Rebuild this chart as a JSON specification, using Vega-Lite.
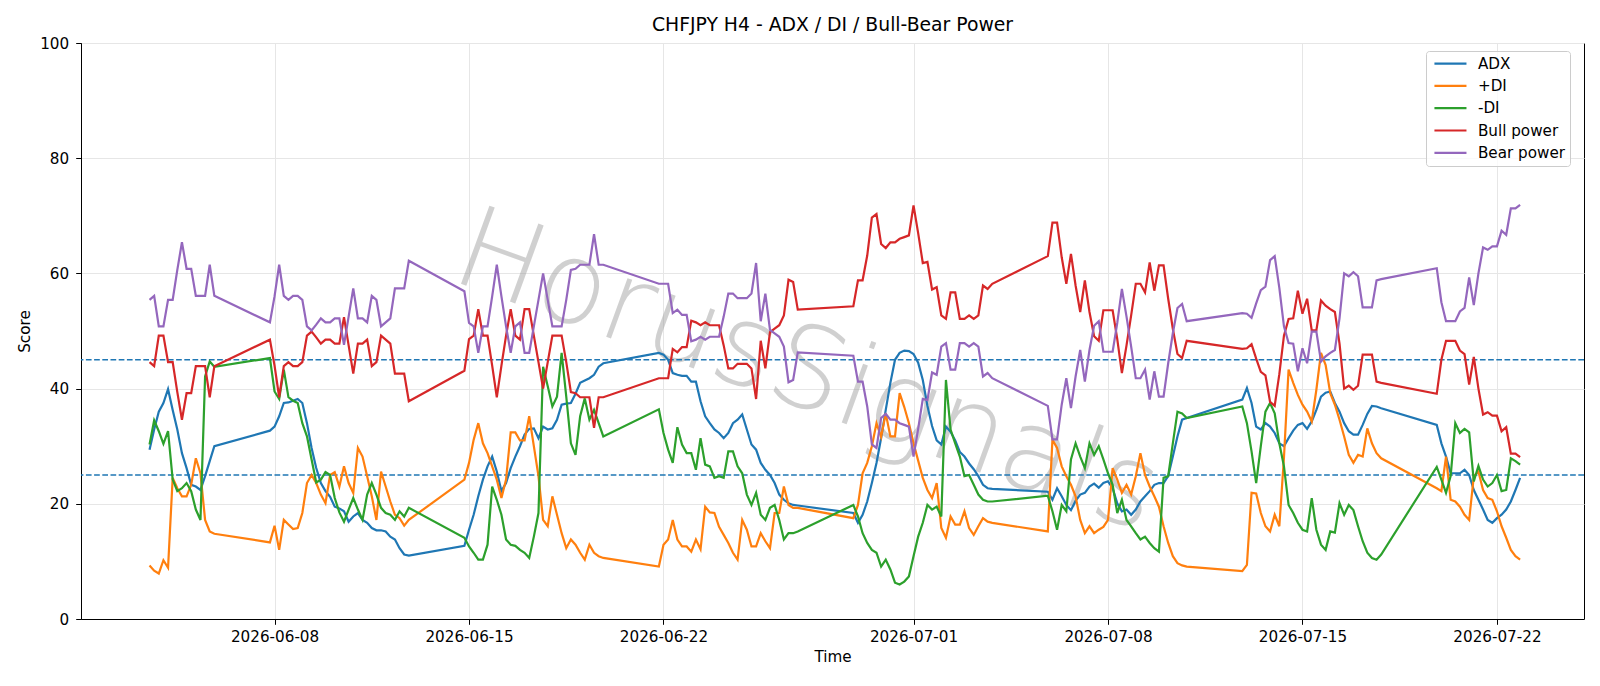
{
"$schema": "https://vega.github.io/schema/vega-lite/v6.json",
"width": 1503, "height": 576,
"autosize": {"type": "none"},
"padding": {"left": 81, "top": 43, "right": 16, "bottom": 67},
"background": "white",
"title": {"text": "CHFJPY H4 - ADX / DI / Bull-Bear Power", "fontSize": 18.8, "font": "DejaVu Sans", "fontWeight": "normal", "color": "black", "offset": -13.5, "anchor": "middle", "baseline": "alphabetic"},
"config": {
  "font": "DejaVu Sans",
  "view": {"stroke": "black", "strokeWidth": 1},
  "axis": {"labelFont": "DejaVu Sans", "labelFontSize": 15.2, "labelColor": "black", "titleFont": "DejaVu Sans", "titleFontSize": 15.2, "titleFontWeight": "normal", "titleColor": "black", "tickColor": "black", "domainColor": "black", "tickSize": 5.3, "labelPadding": 5, "gridColor": "#e6e6e6", "gridWidth": 1, "domainWidth": 1, "tickWidth": 1}
},
"datasets": {
"d": [
{"t":"2026-06-03T12:00:00Z","ADX":29.4,"+DI":9.3,"-DI":30.3,"Bull power":44.6,"Bear power":55.4},
{"t":"2026-06-03T16:00:00Z","ADX":32.9,"+DI":8.4,"-DI":34.5,"Bull power":43.9,"Bear power":56.1},
{"t":"2026-06-03T20:00:00Z","ADX":36.0,"+DI":7.9,"-DI":32.6,"Bull power":49.2,"Bear power":50.8},
{"t":"2026-06-04T00:00:00Z","ADX":37.5,"+DI":10.2,"-DI":30.4,"Bull power":49.2,"Bear power":50.8},
{"t":"2026-06-04T04:00:00Z","ADX":39.9,"+DI":8.9,"-DI":32.6,"Bull power":44.6,"Bear power":55.4},
{"t":"2026-06-04T08:00:00Z","ADX":36.3,"+DI":24.5,"-DI":24.2,"Bull power":44.6,"Bear power":55.4},
{"t":"2026-06-04T12:00:00Z","ADX":32.9,"+DI":22.7,"-DI":22.2,"Bull power":39.4,"Bear power":60.6},
{"t":"2026-06-04T16:00:00Z","ADX":28.8,"+DI":21.3,"-DI":22.7,"Bull power":34.6,"Bear power":65.4},
{"t":"2026-06-04T20:00:00Z","ADX":26.2,"+DI":21.3,"-DI":23.6,"Bull power":39.2,"Bear power":60.8},
{"t":"2026-06-05T00:00:00Z","ADX":23.3,"+DI":23.3,"-DI":22.2,"Bull power":39.2,"Bear power":60.8},
{"t":"2026-06-05T04:00:00Z","ADX":23.0,"+DI":27.9,"-DI":19.0,"Bull power":43.9,"Bear power":56.1},
{"t":"2026-06-05T08:00:00Z","ADX":22.4,"+DI":25.3,"-DI":17.2,"Bull power":43.9,"Bear power":56.1},
{"t":"2026-06-05T12:00:00Z","ADX":24.8,"+DI":17.2,"-DI":42.1,"Bull power":43.9,"Bear power":56.1},
{"t":"2026-06-05T16:00:00Z","ADX":27.4,"+DI":15.2,"-DI":44.7,"Bull power":38.5,"Bear power":61.5},
{"t":"2026-06-05T20:00:00Z","ADX":30.0,"+DI":14.8,"-DI":43.8,"Bull power":43.9,"Bear power":56.1},
{"t":"2026-06-07T20:00:00Z","ADX":32.7,"+DI":13.3,"-DI":45.3,"Bull power":48.5,"Bear power":51.5},
{"t":"2026-06-08T00:00:00Z","ADX":33.4,"+DI":16.2,"-DI":39.5,"Bull power":44.0,"Bear power":56.0},
{"t":"2026-06-08T04:00:00Z","ADX":35.2,"+DI":12.0,"-DI":38.2,"Bull power":38.5,"Bear power":61.5},
{"t":"2026-06-08T08:00:00Z","ADX":37.5,"+DI":17.2,"-DI":43.3,"Bull power":43.9,"Bear power":56.1},
{"t":"2026-06-08T12:00:00Z","ADX":37.6,"+DI":16.4,"-DI":38.5,"Bull power":44.6,"Bear power":55.4},
{"t":"2026-06-08T16:00:00Z","ADX":37.9,"+DI":15.6,"-DI":37.9,"Bull power":43.9,"Bear power":56.1},
{"t":"2026-06-08T20:00:00Z","ADX":38.2,"+DI":15.8,"-DI":37.5,"Bull power":43.9,"Bear power":56.1},
{"t":"2026-06-09T00:00:00Z","ADX":37.5,"+DI":18.4,"-DI":34.0,"Bull power":44.6,"Bear power":55.4},
{"t":"2026-06-09T04:00:00Z","ADX":34.0,"+DI":23.6,"-DI":31.7,"Bull power":49.2,"Bear power":50.8},
{"t":"2026-06-09T08:00:00Z","ADX":29.7,"+DI":25.0,"-DI":27.7,"Bull power":49.9,"Bear power":50.1},
{"t":"2026-06-09T12:00:00Z","ADX":26.2,"+DI":23.6,"-DI":23.7,"Bull power":48.9,"Bear power":51.1},
{"t":"2026-06-09T16:00:00Z","ADX":23.6,"+DI":21.6,"-DI":24.2,"Bull power":47.8,"Bear power":52.2},
{"t":"2026-06-09T20:00:00Z","ADX":22.2,"+DI":20.1,"-DI":25.5,"Bull power":48.5,"Bear power":51.5},
{"t":"2026-06-10T00:00:00Z","ADX":21.2,"+DI":25.0,"-DI":25.0,"Bull power":48.5,"Bear power":51.5},
{"t":"2026-06-10T04:00:00Z","ADX":19.5,"+DI":25.5,"-DI":21.0,"Bull power":47.8,"Bear power":52.2},
{"t":"2026-06-10T08:00:00Z","ADX":19.2,"+DI":23.0,"-DI":18.5,"Bull power":47.8,"Bear power":52.2},
{"t":"2026-06-10T12:00:00Z","ADX":18.7,"+DI":26.5,"-DI":16.9,"Bull power":52.4,"Bear power":47.6},
{"t":"2026-06-10T16:00:00Z","ADX":16.9,"+DI":23.6,"-DI":19.0,"Bull power":47.5,"Bear power":52.5},
{"t":"2026-06-10T20:00:00Z","ADX":17.8,"+DI":21.9,"-DI":21.0,"Bull power":42.6,"Bear power":57.4},
{"t":"2026-06-11T00:00:00Z","ADX":18.4,"+DI":29.7,"-DI":19.0,"Bull power":47.8,"Bear power":52.2},
{"t":"2026-06-11T04:00:00Z","ADX":17.2,"+DI":28.2,"-DI":17.2,"Bull power":47.8,"Bear power":52.2},
{"t":"2026-06-11T08:00:00Z","ADX":16.7,"+DI":24.8,"-DI":21.6,"Bull power":48.5,"Bear power":51.5},
{"t":"2026-06-11T12:00:00Z","ADX":15.8,"+DI":21.3,"-DI":23.6,"Bull power":43.9,"Bear power":56.1},
{"t":"2026-06-11T16:00:00Z","ADX":15.4,"+DI":17.2,"-DI":21.6,"Bull power":44.6,"Bear power":55.4},
{"t":"2026-06-11T20:00:00Z","ADX":15.4,"+DI":25.6,"-DI":19.3,"Bull power":49.2,"Bear power":50.8},
{"t":"2026-06-12T00:00:00Z","ADX":15.2,"+DI":23.0,"-DI":18.4,"Bull power":48.5,"Bear power":51.5},
{"t":"2026-06-12T04:00:00Z","ADX":14.3,"+DI":20.4,"-DI":18.1,"Bull power":47.8,"Bear power":52.2},
{"t":"2026-06-12T08:00:00Z","ADX":13.8,"+DI":18.1,"-DI":17.2,"Bull power":42.6,"Bear power":57.4},
{"t":"2026-06-12T12:00:00Z","ADX":12.3,"+DI":17.5,"-DI":18.7,"Bull power":42.6,"Bear power":57.4},
{"t":"2026-06-12T16:00:00Z","ADX":11.2,"+DI":16.2,"-DI":17.8,"Bull power":42.6,"Bear power":57.4},
{"t":"2026-06-12T20:00:00Z","ADX":11.0,"+DI":17.2,"-DI":19.3,"Bull power":37.8,"Bear power":62.2},
{"t":"2026-06-14T20:00:00Z","ADX":12.7,"+DI":24.2,"-DI":14.1,"Bull power":43.1,"Bear power":56.9},
{"t":"2026-06-15T00:00:00Z","ADX":15.5,"+DI":27.1,"-DI":12.6,"Bull power":48.6,"Bear power":51.4},
{"t":"2026-06-15T04:00:00Z","ADX":18.1,"+DI":31.1,"-DI":11.5,"Bull power":49.2,"Bear power":50.8},
{"t":"2026-06-15T08:00:00Z","ADX":21.3,"+DI":34.0,"-DI":10.3,"Bull power":53.8,"Bear power":46.2},
{"t":"2026-06-15T12:00:00Z","ADX":24.2,"+DI":30.5,"-DI":10.3,"Bull power":49.2,"Bear power":50.8},
{"t":"2026-06-15T16:00:00Z","ADX":26.5,"+DI":28.8,"-DI":12.9,"Bull power":49.2,"Bear power":50.8},
{"t":"2026-06-15T20:00:00Z","ADX":28.2,"+DI":26.5,"-DI":23.0,"Bull power":44.0,"Bear power":56.0},
{"t":"2026-06-16T00:00:00Z","ADX":25.6,"+DI":24.2,"-DI":20.7,"Bull power":38.5,"Bear power":61.5},
{"t":"2026-06-16T04:00:00Z","ADX":22.2,"+DI":21.0,"-DI":18.1,"Bull power":44.0,"Bear power":56.0},
{"t":"2026-06-16T08:00:00Z","ADX":23.6,"+DI":24.2,"-DI":13.8,"Bull power":49.2,"Bear power":50.8},
{"t":"2026-06-16T12:00:00Z","ADX":26.2,"+DI":32.4,"-DI":12.9,"Bull power":53.8,"Bear power":46.2},
{"t":"2026-06-16T16:00:00Z","ADX":28.2,"+DI":32.4,"-DI":12.7,"Bull power":49.2,"Bear power":50.8},
{"t":"2026-06-16T20:00:00Z","ADX":30.0,"+DI":31.0,"-DI":12.0,"Bull power":48.5,"Bear power":51.5},
{"t":"2026-06-17T00:00:00Z","ADX":32.0,"+DI":31.0,"-DI":11.5,"Bull power":53.8,"Bear power":46.2},
{"t":"2026-06-17T04:00:00Z","ADX":33.0,"+DI":35.2,"-DI":10.6,"Bull power":53.8,"Bear power":46.2},
{"t":"2026-06-17T08:00:00Z","ADX":33.1,"+DI":30.0,"-DI":14.3,"Bull power":49.2,"Bear power":50.8},
{"t":"2026-06-17T12:00:00Z","ADX":31.4,"+DI":24.8,"-DI":18.4,"Bull power":44.6,"Bear power":55.4},
{"t":"2026-06-17T16:00:00Z","ADX":33.4,"+DI":17.2,"-DI":43.8,"Bull power":40.0,"Bear power":60.0},
{"t":"2026-06-17T20:00:00Z","ADX":32.9,"+DI":16.1,"-DI":40.4,"Bull power":44.6,"Bear power":55.4},
{"t":"2026-06-18T00:00:00Z","ADX":33.1,"+DI":21.3,"-DI":36.9,"Bull power":49.2,"Bear power":50.8},
{"t":"2026-06-18T04:00:00Z","ADX":34.6,"+DI":18.1,"-DI":38.6,"Bull power":49.2,"Bear power":50.8},
{"t":"2026-06-18T08:00:00Z","ADX":37.2,"+DI":14.9,"-DI":46.2,"Bull power":49.2,"Bear power":50.8},
{"t":"2026-06-18T12:00:00Z","ADX":37.4,"+DI":12.3,"-DI":38.6,"Bull power":44.6,"Bear power":55.4},
{"t":"2026-06-18T16:00:00Z","ADX":37.5,"+DI":13.8,"-DI":30.5,"Bull power":39.4,"Bear power":60.6},
{"t":"2026-06-18T20:00:00Z","ADX":39.1,"+DI":12.9,"-DI":28.5,"Bull power":39.2,"Bear power":60.8},
{"t":"2026-06-19T00:00:00Z","ADX":41.0,"+DI":11.5,"-DI":35.2,"Bull power":38.5,"Bear power":61.5},
{"t":"2026-06-19T04:00:00Z","ADX":41.4,"+DI":10.3,"-DI":38.3,"Bull power":38.5,"Bear power":61.5},
{"t":"2026-06-19T08:00:00Z","ADX":41.8,"+DI":12.9,"-DI":34.6,"Bull power":38.5,"Bear power":61.5},
{"t":"2026-06-19T12:00:00Z","ADX":42.4,"+DI":11.5,"-DI":36.3,"Bull power":33.2,"Bear power":66.8},
{"t":"2026-06-19T16:00:00Z","ADX":43.8,"+DI":10.9,"-DI":34.0,"Bull power":38.5,"Bear power":61.5},
{"t":"2026-06-19T20:00:00Z","ADX":44.4,"+DI":10.6,"-DI":31.7,"Bull power":38.5,"Bear power":61.5},
{"t":"2026-06-21T20:00:00Z","ADX":46.2,"+DI":9.1,"-DI":36.4,"Bull power":41.8,"Bear power":58.2},
{"t":"2026-06-22T00:00:00Z","ADX":45.9,"+DI":12.9,"-DI":32.3,"Bull power":41.8,"Bear power":58.2},
{"t":"2026-06-22T04:00:00Z","ADX":45.0,"+DI":13.8,"-DI":29.4,"Bull power":41.8,"Bear power":58.2},
{"t":"2026-06-22T08:00:00Z","ADX":42.7,"+DI":17.2,"-DI":27.1,"Bull power":46.9,"Bear power":53.1},
{"t":"2026-06-22T12:00:00Z","ADX":42.4,"+DI":13.8,"-DI":33.3,"Bull power":46.3,"Bear power":53.7},
{"t":"2026-06-22T16:00:00Z","ADX":42.2,"+DI":12.6,"-DI":30.3,"Bull power":47.2,"Bear power":52.8},
{"t":"2026-06-22T20:00:00Z","ADX":42.2,"+DI":12.6,"-DI":28.8,"Bull power":47.2,"Bear power":52.8},
{"t":"2026-06-23T00:00:00Z","ADX":41.2,"+DI":11.7,"-DI":28.8,"Bull power":51.8,"Bear power":48.2},
{"t":"2026-06-23T04:00:00Z","ADX":41.2,"+DI":13.8,"-DI":25.9,"Bull power":51.5,"Bear power":48.5},
{"t":"2026-06-23T08:00:00Z","ADX":37.8,"+DI":12.1,"-DI":31.4,"Bull power":51.0,"Bear power":49.0},
{"t":"2026-06-23T12:00:00Z","ADX":35.2,"+DI":19.5,"-DI":26.8,"Bull power":51.5,"Bear power":48.5},
{"t":"2026-06-23T16:00:00Z","ADX":34.0,"+DI":18.5,"-DI":26.5,"Bull power":51.0,"Bear power":49.0},
{"t":"2026-06-23T20:00:00Z","ADX":32.9,"+DI":18.4,"-DI":24.5,"Bull power":51.0,"Bear power":49.0},
{"t":"2026-06-24T00:00:00Z","ADX":32.3,"+DI":16.0,"-DI":24.8,"Bull power":51.0,"Bear power":49.0},
{"t":"2026-06-24T04:00:00Z","ADX":31.4,"+DI":14.6,"-DI":24.5,"Bull power":47.5,"Bear power":52.5},
{"t":"2026-06-24T08:00:00Z","ADX":32.3,"+DI":13.2,"-DI":29.1,"Bull power":43.5,"Bear power":56.5},
{"t":"2026-06-24T12:00:00Z","ADX":34.0,"+DI":11.5,"-DI":29.1,"Bull power":43.5,"Bear power":56.5},
{"t":"2026-06-24T16:00:00Z","ADX":34.6,"+DI":10.3,"-DI":26.5,"Bull power":44.3,"Bear power":55.7},
{"t":"2026-06-24T20:00:00Z","ADX":35.5,"+DI":17.2,"-DI":25.3,"Bull power":44.3,"Bear power":55.7},
{"t":"2026-06-25T00:00:00Z","ADX":32.9,"+DI":15.5,"-DI":21.6,"Bull power":44.3,"Bear power":55.7},
{"t":"2026-06-25T04:00:00Z","ADX":30.3,"+DI":12.6,"-DI":19.8,"Bull power":43.5,"Bear power":56.5},
{"t":"2026-06-25T08:00:00Z","ADX":29.4,"+DI":12.6,"-DI":21.9,"Bull power":38.2,"Bear power":61.8},
{"t":"2026-06-25T12:00:00Z","ADX":27.1,"+DI":14.9,"-DI":18.1,"Bull power":48.3,"Bear power":51.7},
{"t":"2026-06-25T16:00:00Z","ADX":25.9,"+DI":13.5,"-DI":17.2,"Bull power":43.5,"Bear power":56.5},
{"t":"2026-06-25T20:00:00Z","ADX":25.0,"+DI":12.3,"-DI":19.3,"Bull power":49.8,"Bear power":50.2},
{"t":"2026-06-26T00:00:00Z","ADX":23.6,"+DI":18.4,"-DI":19.8,"Bull power":50.4,"Bear power":49.6},
{"t":"2026-06-26T04:00:00Z","ADX":21.6,"+DI":18.4,"-DI":17.2,"Bull power":51.0,"Bear power":49.0},
{"t":"2026-06-26T08:00:00Z","ADX":20.7,"+DI":23.0,"-DI":13.8,"Bull power":52.7,"Bear power":47.3},
{"t":"2026-06-26T12:00:00Z","ADX":20.1,"+DI":19.8,"-DI":14.9,"Bull power":58.9,"Bear power":41.1},
{"t":"2026-06-26T16:00:00Z","ADX":19.8,"+DI":19.3,"-DI":14.9,"Bull power":58.5,"Bear power":41.5},
{"t":"2026-06-26T20:00:00Z","ADX":19.7,"+DI":19.3,"-DI":15.2,"Bull power":53.7,"Bear power":46.3},
{"t":"2026-06-28T20:00:00Z","ADX":18.4,"+DI":17.5,"-DI":19.8,"Bull power":54.3,"Bear power":45.7},
{"t":"2026-06-29T00:00:00Z","ADX":16.7,"+DI":19.8,"-DI":17.8,"Bull power":58.8,"Bear power":41.2},
{"t":"2026-06-29T04:00:00Z","ADX":18.1,"+DI":25.3,"-DI":14.9,"Bull power":58.8,"Bear power":41.2},
{"t":"2026-06-29T08:00:00Z","ADX":20.4,"+DI":27.1,"-DI":13.2,"Bull power":63.1,"Bear power":36.9},
{"t":"2026-06-29T12:00:00Z","ADX":23.6,"+DI":30.0,"-DI":12.0,"Bull power":69.7,"Bear power":30.3},
{"t":"2026-06-29T16:00:00Z","ADX":27.1,"+DI":34.0,"-DI":11.5,"Bull power":70.3,"Bear power":29.7},
{"t":"2026-06-29T20:00:00Z","ADX":31.4,"+DI":31.6,"-DI":9.1,"Bull power":65.1,"Bear power":34.9},
{"t":"2026-06-30T00:00:00Z","ADX":36.3,"+DI":35.7,"-DI":10.3,"Bull power":64.4,"Bear power":35.6},
{"t":"2026-06-30T04:00:00Z","ADX":41.0,"+DI":31.7,"-DI":8.6,"Bull power":65.4,"Bear power":34.6},
{"t":"2026-06-30T08:00:00Z","ADX":45.0,"+DI":31.7,"-DI":6.3,"Bull power":65.4,"Bear power":34.6},
{"t":"2026-06-30T12:00:00Z","ADX":46.2,"+DI":39.2,"-DI":6.0,"Bull power":66.0,"Bear power":34.0},
{"t":"2026-06-30T16:00:00Z","ADX":46.6,"+DI":36.8,"-DI":6.5,"Bull power":66.3,"Bear power":33.7},
{"t":"2026-06-30T20:00:00Z","ADX":46.5,"+DI":34.0,"-DI":7.4,"Bull power":66.6,"Bear power":33.4},
{"t":"2026-07-01T00:00:00Z","ADX":46.0,"+DI":30.5,"-DI":10.9,"Bull power":71.8,"Bear power":28.2},
{"t":"2026-07-01T04:00:00Z","ADX":44.5,"+DI":27.5,"-DI":14.3,"Bull power":67.0,"Bear power":33.0},
{"t":"2026-07-01T08:00:00Z","ADX":41.5,"+DI":24.5,"-DI":16.7,"Bull power":61.8,"Bear power":38.2},
{"t":"2026-07-01T12:00:00Z","ADX":37.0,"+DI":22.4,"-DI":19.8,"Bull power":62.0,"Bear power":38.0},
{"t":"2026-07-01T16:00:00Z","ADX":33.5,"+DI":21.0,"-DI":19.0,"Bull power":57.2,"Bear power":42.8},
{"t":"2026-07-01T20:00:00Z","ADX":31.0,"+DI":23.6,"-DI":19.5,"Bull power":57.6,"Bear power":42.4},
{"t":"2026-07-02T00:00:00Z","ADX":30.3,"+DI":15.8,"-DI":17.8,"Bull power":52.7,"Bear power":47.3},
{"t":"2026-07-02T04:00:00Z","ADX":33.4,"+DI":14.1,"-DI":41.5,"Bull power":52.1,"Bear power":47.9},
{"t":"2026-07-02T08:00:00Z","ADX":32.5,"+DI":17.8,"-DI":32.9,"Bull power":56.7,"Bear power":43.3},
{"t":"2026-07-02T12:00:00Z","ADX":31.0,"+DI":16.4,"-DI":30.5,"Bull power":56.7,"Bear power":43.3},
{"t":"2026-07-02T16:00:00Z","ADX":29.0,"+DI":16.4,"-DI":28.2,"Bull power":52.1,"Bear power":47.9},
{"t":"2026-07-02T20:00:00Z","ADX":28.2,"+DI":18.7,"-DI":24.8,"Bull power":52.1,"Bear power":47.9},
{"t":"2026-07-03T00:00:00Z","ADX":27.0,"+DI":15.8,"-DI":25.0,"Bull power":52.7,"Bear power":47.3},
{"t":"2026-07-03T04:00:00Z","ADX":26.0,"+DI":14.6,"-DI":23.3,"Bull power":52.1,"Bear power":47.9},
{"t":"2026-07-03T08:00:00Z","ADX":24.8,"+DI":16.1,"-DI":21.6,"Bull power":52.7,"Bear power":47.3},
{"t":"2026-07-03T12:00:00Z","ADX":23.3,"+DI":17.5,"-DI":20.7,"Bull power":57.9,"Bear power":42.1},
{"t":"2026-07-03T16:00:00Z","ADX":22.7,"+DI":16.9,"-DI":20.4,"Bull power":57.3,"Bear power":42.7},
{"t":"2026-07-03T20:00:00Z","ADX":22.6,"+DI":16.7,"-DI":20.4,"Bull power":58.2,"Bear power":41.8},
{"t":"2026-07-05T20:00:00Z","ADX":22.1,"+DI":15.2,"-DI":21.4,"Bull power":63.0,"Bear power":37.0},
{"t":"2026-07-06T00:00:00Z","ADX":20.7,"+DI":31.1,"-DI":18.7,"Bull power":68.8,"Bear power":31.2},
{"t":"2026-07-06T04:00:00Z","ADX":22.7,"+DI":29.7,"-DI":15.5,"Bull power":68.8,"Bear power":31.2},
{"t":"2026-07-06T08:00:00Z","ADX":21.3,"+DI":26.5,"-DI":19.8,"Bull power":62.8,"Bear power":37.2},
{"t":"2026-07-06T12:00:00Z","ADX":19.8,"+DI":24.8,"-DI":18.7,"Bull power":58.2,"Bear power":41.8},
{"t":"2026-07-06T16:00:00Z","ADX":18.9,"+DI":23.3,"-DI":27.7,"Bull power":63.4,"Bear power":36.6},
{"t":"2026-07-06T20:00:00Z","ADX":20.5,"+DI":21.3,"-DI":30.5,"Bull power":57.9,"Bear power":42.1},
{"t":"2026-07-07T00:00:00Z","ADX":21.6,"+DI":17.2,"-DI":28.2,"Bull power":53.3,"Bear power":46.7},
{"t":"2026-07-07T04:00:00Z","ADX":21.9,"+DI":14.9,"-DI":26.2,"Bull power":58.8,"Bear power":41.2},
{"t":"2026-07-07T08:00:00Z","ADX":23.0,"+DI":16.1,"-DI":30.5,"Bull power":53.3,"Bear power":46.7},
{"t":"2026-07-07T12:00:00Z","ADX":23.5,"+DI":14.9,"-DI":28.5,"Bull power":49.1,"Bear power":50.9},
{"t":"2026-07-07T16:00:00Z","ADX":22.8,"+DI":15.5,"-DI":30.0,"Bull power":48.3,"Bear power":51.7},
{"t":"2026-07-07T20:00:00Z","ADX":23.6,"+DI":16.0,"-DI":27.7,"Bull power":53.6,"Bear power":46.4},
{"t":"2026-07-08T00:00:00Z","ADX":23.9,"+DI":17.2,"-DI":25.3,"Bull power":53.6,"Bear power":46.4},
{"t":"2026-07-08T04:00:00Z","ADX":22.7,"+DI":26.2,"-DI":23.3,"Bull power":53.6,"Bear power":46.4},
{"t":"2026-07-08T08:00:00Z","ADX":20.1,"+DI":24.2,"-DI":18.4,"Bull power":48.6,"Bear power":51.4},
{"t":"2026-07-08T12:00:00Z","ADX":18.7,"+DI":21.9,"-DI":20.7,"Bull power":42.7,"Bear power":57.3},
{"t":"2026-07-08T16:00:00Z","ADX":19.0,"+DI":23.3,"-DI":17.2,"Bull power":47.5,"Bear power":52.5},
{"t":"2026-07-08T20:00:00Z","ADX":18.1,"+DI":21.6,"-DI":16.1,"Bull power":52.7,"Bear power":47.3},
{"t":"2026-07-09T00:00:00Z","ADX":19.0,"+DI":24.8,"-DI":14.9,"Bull power":58.2,"Bear power":41.8},
{"t":"2026-07-09T04:00:00Z","ADX":20.4,"+DI":28.8,"-DI":13.8,"Bull power":58.2,"Bear power":41.8},
{"t":"2026-07-09T08:00:00Z","ADX":21.3,"+DI":25.0,"-DI":14.3,"Bull power":56.7,"Bear power":43.3},
{"t":"2026-07-09T12:00:00Z","ADX":22.2,"+DI":23.0,"-DI":13.2,"Bull power":61.9,"Bear power":38.1},
{"t":"2026-07-09T16:00:00Z","ADX":23.3,"+DI":21.3,"-DI":12.3,"Bull power":57.0,"Bear power":43.0},
{"t":"2026-07-09T20:00:00Z","ADX":23.6,"+DI":19.5,"-DI":11.7,"Bull power":61.4,"Bear power":38.6},
{"t":"2026-07-10T00:00:00Z","ADX":23.6,"+DI":16.1,"-DI":24.5,"Bull power":61.4,"Bear power":38.6},
{"t":"2026-07-10T04:00:00Z","ADX":24.8,"+DI":13.2,"-DI":24.8,"Bull power":55.6,"Bear power":44.4},
{"t":"2026-07-10T08:00:00Z","ADX":28.2,"+DI":10.9,"-DI":30.5,"Bull power":50.4,"Bear power":49.6},
{"t":"2026-07-10T12:00:00Z","ADX":31.7,"+DI":9.7,"-DI":36.0,"Bull power":46.0,"Bear power":54.0},
{"t":"2026-07-10T16:00:00Z","ADX":34.6,"+DI":9.3,"-DI":35.7,"Bull power":45.3,"Bear power":54.7},
{"t":"2026-07-10T20:00:00Z","ADX":34.9,"+DI":9.1,"-DI":34.9,"Bull power":48.3,"Bear power":51.7},
{"t":"2026-07-12T20:00:00Z","ADX":38.1,"+DI":8.3,"-DI":36.9,"Bull power":46.9,"Bear power":53.1},
{"t":"2026-07-13T00:00:00Z","ADX":40.1,"+DI":9.4,"-DI":34.0,"Bull power":47.0,"Bear power":53.0},
{"t":"2026-07-13T04:00:00Z","ADX":37.5,"+DI":21.9,"-DI":29.1,"Bull power":47.7,"Bear power":52.3},
{"t":"2026-07-13T08:00:00Z","ADX":33.4,"+DI":21.8,"-DI":23.6,"Bull power":45.2,"Bear power":54.8},
{"t":"2026-07-13T12:00:00Z","ADX":32.9,"+DI":18.4,"-DI":30.0,"Bull power":42.9,"Bear power":57.1},
{"t":"2026-07-13T16:00:00Z","ADX":34.0,"+DI":16.1,"-DI":36.0,"Bull power":42.3,"Bear power":57.7},
{"t":"2026-07-13T20:00:00Z","ADX":33.4,"+DI":15.2,"-DI":37.5,"Bull power":37.7,"Bear power":62.3},
{"t":"2026-07-14T00:00:00Z","ADX":32.3,"+DI":18.1,"-DI":35.7,"Bull power":37.0,"Bear power":63.0},
{"t":"2026-07-14T04:00:00Z","ADX":30.5,"+DI":16.1,"-DI":30.5,"Bull power":42.5,"Bear power":57.5},
{"t":"2026-07-14T08:00:00Z","ADX":30.0,"+DI":28.0,"-DI":26.5,"Bull power":49.2,"Bear power":50.8},
{"t":"2026-07-14T12:00:00Z","ADX":31.4,"+DI":43.3,"-DI":19.8,"Bull power":52.1,"Bear power":47.9},
{"t":"2026-07-14T16:00:00Z","ADX":32.7,"+DI":41.0,"-DI":18.4,"Bull power":52.2,"Bear power":47.8},
{"t":"2026-07-14T20:00:00Z","ADX":33.7,"+DI":38.9,"-DI":16.7,"Bull power":57.0,"Bear power":43.0},
{"t":"2026-07-15T00:00:00Z","ADX":34.0,"+DI":37.2,"-DI":15.5,"Bull power":53.0,"Bear power":47.0},
{"t":"2026-07-15T04:00:00Z","ADX":33.0,"+DI":36.0,"-DI":15.2,"Bull power":55.6,"Bear power":44.4},
{"t":"2026-07-15T08:00:00Z","ADX":34.3,"+DI":34.3,"-DI":21.0,"Bull power":50.1,"Bear power":49.9},
{"t":"2026-07-15T12:00:00Z","ADX":36.3,"+DI":39.8,"-DI":15.5,"Bull power":50.1,"Bear power":49.9},
{"t":"2026-07-15T16:00:00Z","ADX":38.6,"+DI":46.2,"-DI":12.9,"Bull power":55.3,"Bear power":44.7},
{"t":"2026-07-15T20:00:00Z","ADX":39.3,"+DI":44.1,"-DI":12.0,"Bull power":54.4,"Bear power":45.6},
{"t":"2026-07-16T00:00:00Z","ADX":39.5,"+DI":39.2,"-DI":15.2,"Bull power":53.8,"Bear power":46.2},
{"t":"2026-07-16T04:00:00Z","ADX":37.5,"+DI":37.2,"-DI":15.0,"Bull power":53.3,"Bear power":46.7},
{"t":"2026-07-16T08:00:00Z","ADX":36.0,"+DI":34.6,"-DI":20.1,"Bull power":47.8,"Bear power":52.2},
{"t":"2026-07-16T12:00:00Z","ADX":34.0,"+DI":31.7,"-DI":18.1,"Bull power":40.0,"Bear power":60.0},
{"t":"2026-07-16T16:00:00Z","ADX":32.6,"+DI":28.5,"-DI":19.8,"Bull power":40.5,"Bear power":59.5},
{"t":"2026-07-16T20:00:00Z","ADX":32.0,"+DI":27.1,"-DI":18.9,"Bull power":39.8,"Bear power":60.2},
{"t":"2026-07-17T00:00:00Z","ADX":32.0,"+DI":28.5,"-DI":16.1,"Bull power":40.5,"Bear power":59.5},
{"t":"2026-07-17T04:00:00Z","ADX":33.7,"+DI":28.2,"-DI":13.5,"Bull power":45.9,"Bear power":54.1},
{"t":"2026-07-17T08:00:00Z","ADX":35.6,"+DI":33.1,"-DI":11.5,"Bull power":45.9,"Bear power":54.1},
{"t":"2026-07-17T12:00:00Z","ADX":37.0,"+DI":30.5,"-DI":10.6,"Bull power":45.9,"Bear power":54.1},
{"t":"2026-07-17T16:00:00Z","ADX":36.9,"+DI":28.8,"-DI":10.3,"Bull power":41.2,"Bear power":58.8},
{"t":"2026-07-17T20:00:00Z","ADX":36.6,"+DI":27.9,"-DI":11.2,"Bull power":41.0,"Bear power":59.0},
{"t":"2026-07-19T20:00:00Z","ADX":33.7,"+DI":22.7,"-DI":26.4,"Bull power":39.1,"Bear power":60.9},
{"t":"2026-07-20T00:00:00Z","ADX":30.5,"+DI":22.2,"-DI":24.2,"Bull power":45.0,"Bear power":55.0},
{"t":"2026-07-20T04:00:00Z","ADX":28.2,"+DI":28.2,"-DI":21.9,"Bull power":48.3,"Bear power":51.7},
{"t":"2026-07-20T08:00:00Z","ADX":25.3,"+DI":20.7,"-DI":24.8,"Bull power":48.3,"Bear power":51.7},
{"t":"2026-07-20T12:00:00Z","ADX":25.3,"+DI":20.4,"-DI":34.0,"Bull power":48.3,"Bear power":51.7},
{"t":"2026-07-20T16:00:00Z","ADX":25.3,"+DI":19.5,"-DI":32.3,"Bull power":46.6,"Bear power":53.4},
{"t":"2026-07-20T20:00:00Z","ADX":25.9,"+DI":18.1,"-DI":33.0,"Bull power":46.0,"Bear power":54.0},
{"t":"2026-07-21T00:00:00Z","ADX":25.0,"+DI":17.2,"-DI":32.4,"Bull power":40.7,"Bear power":59.3},
{"t":"2026-07-21T04:00:00Z","ADX":22.4,"+DI":24.8,"-DI":23.9,"Bull power":45.5,"Bear power":54.5},
{"t":"2026-07-21T08:00:00Z","ADX":20.7,"+DI":25.6,"-DI":26.6,"Bull power":40.0,"Bear power":60.0},
{"t":"2026-07-21T12:00:00Z","ADX":19.0,"+DI":22.4,"-DI":24.2,"Bull power":35.5,"Bear power":64.5},
{"t":"2026-07-21T16:00:00Z","ADX":17.2,"+DI":21.0,"-DI":23.0,"Bull power":35.9,"Bear power":64.1},
{"t":"2026-07-21T20:00:00Z","ADX":16.7,"+DI":20.7,"-DI":23.6,"Bull power":35.3,"Bear power":64.7},
{"t":"2026-07-22T00:00:00Z","ADX":17.5,"+DI":18.7,"-DI":25.0,"Bull power":35.3,"Bear power":64.7},
{"t":"2026-07-22T04:00:00Z","ADX":18.1,"+DI":16.1,"-DI":22.2,"Bull power":32.6,"Bear power":67.4},
{"t":"2026-07-22T08:00:00Z","ADX":19.0,"+DI":14.1,"-DI":22.4,"Bull power":33.3,"Bear power":66.7},
{"t":"2026-07-22T12:00:00Z","ADX":20.4,"+DI":12.0,"-DI":27.9,"Bull power":28.7,"Bear power":71.3},
{"t":"2026-07-22T16:00:00Z","ADX":22.4,"+DI":10.9,"-DI":27.4,"Bull power":28.7,"Bear power":71.3},
{"t":"2026-07-22T20:00:00Z","ADX":24.5,"+DI":10.3,"-DI":26.8,"Bull power":28.1,"Bear power":71.9}
],
"wm": [{"t": "2026-06-27T04:00:00Z", "value": 42.6, "s": "HorusSignals"}],
"lv": [{"value": 25}, {"value": 45}]
},
"encoding": {
  "y": {"field": "value", "type": "quantitative", "title": "Score",
    "scale": {"domain": [0, 100], "nice": false, "zero": false},
    "axis": {"values": [0, 20, 40, 60, 80, 100], "titlePadding": 7, "labelPadding": 7, "grid": true}}
},
"layer": [
{
  "data": {"name": "wm"},
  "mark": {"type": "text", "angle": 20, "fontSize": 114, "font": "DejaVu Sans", "fontWeight": 200, "fill": "#999999", "opacity": 0.45, "align": "center", "baseline": "middle"},
  "encoding": {
    "x": {"field": "t", "type": "temporal", "title": "Time",
      "scale": {"type": "utc", "domain": [{"year":2026,"month":6,"date":1,"hours":0,"minutes":48,"utc":true},{"year":2026,"month":7,"date":25,"hours":3,"minutes":12,"utc":true}]},
      "axis": {"format": "%Y-%m-%d", "labelFlush": false, "labelOverlap": false, "titlePadding": 5, "grid": true,
        "values": [
          {"year":2026,"month":6,"date":8,"utc":true},
          {"year":2026,"month":6,"date":15,"utc":true},
          {"year":2026,"month":6,"date":22,"utc":true},
          {"year":2026,"month":7,"date":1,"utc":true},
          {"year":2026,"month":7,"date":8,"utc":true},
          {"year":2026,"month":7,"date":15,"utc":true},
          {"year":2026,"month":7,"date":22,"utc":true}]}},
    "text": {"field": "s"}
  }
},
{
  "data": {"name": "lv"},
  "mark": {"type": "rule", "color": "#1f77b4", "strokeWidth": 1.5, "strokeDash": [5.7, 2.5]},
  "encoding": {}
},
{
  "data": {"name": "d"},
  "transform": [{"fold": ["ADX", "+DI", "-DI", "Bull power", "Bear power"], "as": ["series", "value"]}],
  "mark": {"type": "line", "strokeWidth": 2.2, "interpolate": "linear"},
  "encoding": {
    "x": {"field": "t", "type": "temporal", "title": "Time",
      "scale": {"type": "utc", "domain": [{"year":2026,"month":6,"date":1,"hours":0,"minutes":48,"utc":true},{"year":2026,"month":7,"date":25,"hours":3,"minutes":12,"utc":true}]},
      "axis": {"format": "%Y-%m-%d", "labelFlush": false, "labelOverlap": false, "titlePadding": 5, "grid": true,
        "values": [
          {"year":2026,"month":6,"date":8,"utc":true},
          {"year":2026,"month":6,"date":15,"utc":true},
          {"year":2026,"month":6,"date":22,"utc":true},
          {"year":2026,"month":7,"date":1,"utc":true},
          {"year":2026,"month":7,"date":8,"utc":true},
          {"year":2026,"month":7,"date":15,"utc":true},
          {"year":2026,"month":7,"date":22,"utc":true}]}},
    "color": {"field": "series", "type": "nominal",
      "scale": {"domain": ["ADX", "+DI", "-DI", "Bull power", "Bear power"], "range": ["#1f77b4", "#ff7f0e", "#2ca02c", "#d62728", "#9467bd"]},
      "legend": {"title": null, "orient": "none", "legendX": 1345, "legendY": 8,
        "labelFontSize": 15.2, "labelFont": "DejaVu Sans", "labelColor": "black",
        "symbolType": "M-2.67,0L2.67,0", "symbolSize": 144, "symbolStrokeWidth": 2.2,
        "symbolOffset": 11.85, "labelOffset": 19.85, "rowPadding": 6.3, "padding": 5,
        "strokeColor": "#cccccc", "fillColor": "rgba(255,255,255,0.8)", "cornerRadius": 3}}
  }
}
]
}
